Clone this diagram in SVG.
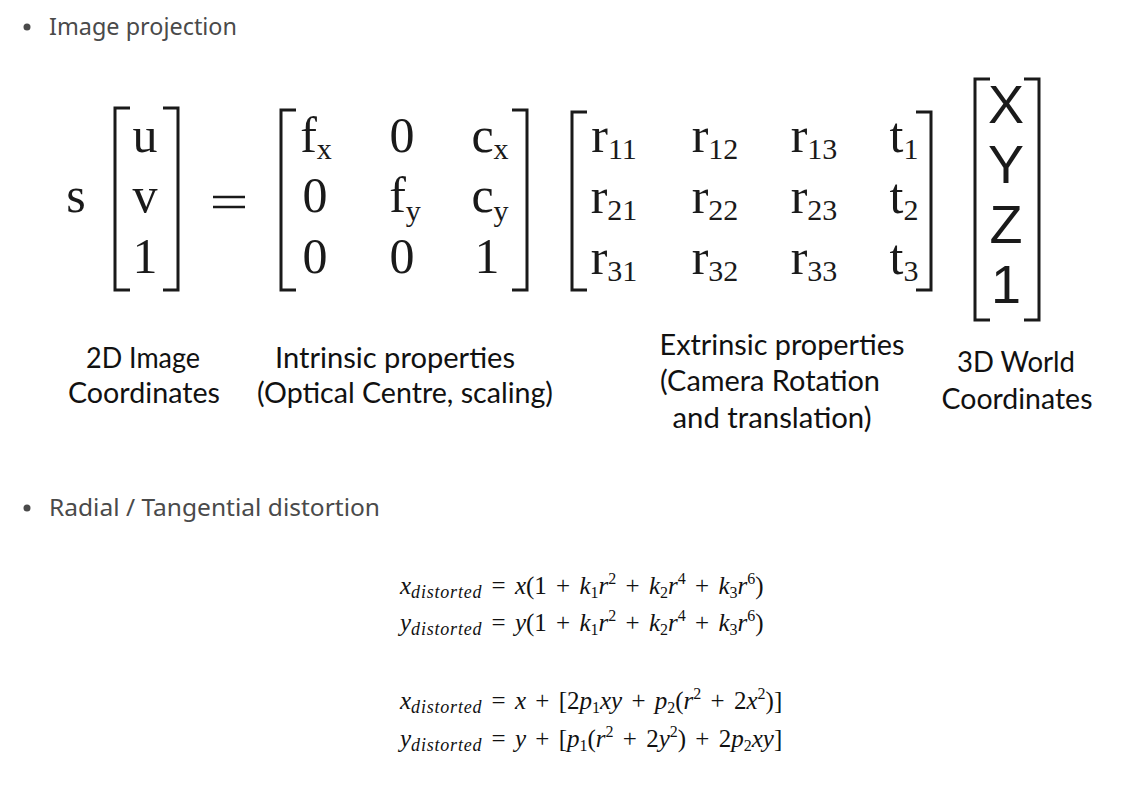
<svg xmlns="http://www.w3.org/2000/svg" width="1146" height="800" viewBox="0 0 1146 800">
<style>
.bul{font-family:"Noto Sans","Liberation Sans",sans-serif;font-size:23px;fill:#4a4a4a}
.m{font-family:"Liberation Serif",serif;font-size:50px;fill:#1a1a1a;text-anchor:middle}
.ms{font-size:30px}
.v{font-family:"Liberation Sans",sans-serif;font-size:54px;fill:#1a1a1a;text-anchor:middle}
.br{fill:none;stroke:#1a1a1a;stroke-width:3}
.lab{font-family:"Lato","Liberation Sans",sans-serif;font-size:28px;fill:#111;text-anchor:middle}
.f{font-family:"Liberation Serif",serif;font-size:25px;fill:#111;word-spacing:3px}
.i{font-style:italic}
.sub{font-size:18px;font-style:italic;letter-spacing:0.8px}
.sup{font-size:16px}
</style>
<rect width="1146" height="800" fill="#fff"/>
<g id="heading1">
<circle cx="27" cy="27" r="3.5" fill="#4a4a4a"/>
<text class="bul" x="49" y="35" textLength="188" lengthAdjust="spacingAndGlyphs">Image projection</text>
</g>
<g id="lhs">
<text class="m" x="76" y="212">s</text>
<path class="br" d="M130,108 H115 V290 H130 M163,108 H178 V290 H163"/>
<text class="m" x="145" y="152">u</text>
<text class="m" x="145" y="212">v</text>
<text class="m" x="145" y="273">1</text>
<path d="M213,197 H245 M213,207 H245" stroke="#1a1a1a" stroke-width="2.5"/>
</g>
<g id="intrinsic">
<path class="br" d="M296,110 H281 V290 H296 M512,110 H527 V290 H512"/>
<text class="m" x="316" y="152">f<tspan class="ms" dy="7">x</tspan></text>
<text class="m" x="402" y="152">0</text>
<text class="m" x="490" y="152">c<tspan class="ms" dy="7">x</tspan></text>
<text class="m" x="315" y="212">0</text>
<text class="m" x="405" y="212">f<tspan class="ms" dy="9">y</tspan></text>
<text class="m" x="490" y="212">c<tspan class="ms" dy="9">y</tspan></text>
<text class="m" x="315" y="273">0</text>
<text class="m" x="402" y="273">0</text>
<text class="m" x="487" y="273">1</text>
</g>
<g id="extrinsic">
<path class="br" d="M587,112 H572 V290 H587 M916,112 H931 V290 H916"/>
<text class="m" x="614" y="152">r<tspan class="ms" dy="7">11</tspan></text>
<text class="m" x="715" y="152">r<tspan class="ms" dy="7">12</tspan></text>
<text class="m" x="814" y="152">r<tspan class="ms" dy="7">13</tspan></text>
<text class="m" x="904" y="152">t<tspan class="ms" dy="7">1</tspan></text>
<text class="m" x="614" y="213">r<tspan class="ms" dy="7">21</tspan></text>
<text class="m" x="715" y="213">r<tspan class="ms" dy="7">22</tspan></text>
<text class="m" x="814" y="213">r<tspan class="ms" dy="7">23</tspan></text>
<text class="m" x="904" y="213">t<tspan class="ms" dy="7">2</tspan></text>
<text class="m" x="614" y="274">r<tspan class="ms" dy="7">31</tspan></text>
<text class="m" x="715" y="274">r<tspan class="ms" dy="7">32</tspan></text>
<text class="m" x="814" y="274">r<tspan class="ms" dy="7">33</tspan></text>
<text class="m" x="904" y="274">t<tspan class="ms" dy="7">3</tspan></text>
</g>
<g id="world">
<path class="br" d="M990,79 H975 V320 H990 M1024,79 H1039 V320 H1024"/>
<text class="v" x="1006" y="123">X</text>
<text class="v" x="1006" y="183">Y</text>
<text class="v" x="1006" y="243">Z</text>
<text class="v" x="1006" y="303">1</text>
</g>
<g id="labels">
<text class="lab" x="143" y="368" textLength="114" lengthAdjust="spacingAndGlyphs">2D Image</text>
<text class="lab" x="144" y="403" textLength="152" lengthAdjust="spacingAndGlyphs">Coordinates</text>
<text class="lab" x="395" y="368" textLength="240" lengthAdjust="spacingAndGlyphs">Intrinsic properties</text>
<text class="lab" x="405" y="403" textLength="296" lengthAdjust="spacingAndGlyphs">(Optical Centre, scaling)</text>
<text class="lab" x="782" y="355" textLength="245" lengthAdjust="spacingAndGlyphs">Extrinsic properties</text>
<text class="lab" x="770" y="391" textLength="220" lengthAdjust="spacingAndGlyphs">(Camera Rotation</text>
<text class="lab" x="772" y="428" textLength="199" lengthAdjust="spacingAndGlyphs">and translation)</text>
<text class="lab" x="1016" y="372" textLength="118" lengthAdjust="spacingAndGlyphs">3D World</text>
<text class="lab" x="1017" y="409" textLength="151" lengthAdjust="spacingAndGlyphs">Coordinates</text>
</g>
<g id="heading2">
<circle cx="27" cy="508" r="3.5" fill="#4a4a4a"/>
<text class="bul" x="49" y="516" textLength="331" lengthAdjust="spacingAndGlyphs">Radial / Tangential distortion</text>
</g>
<g id="distortion">
<text class="f" x="400" y="594"><tspan class="i">x</tspan><tspan class="sub" dy="4">distorted</tspan><tspan dy="-4"> = </tspan><tspan class="i">x</tspan>(1 + <tspan class="i">k</tspan><tspan class="sup" dy="4">1</tspan><tspan class="i" dy="-4">r</tspan><tspan class="sup" dy="-10">2</tspan><tspan dy="10"> + </tspan><tspan class="i">k</tspan><tspan class="sup" dy="4">2</tspan><tspan class="i" dy="-4">r</tspan><tspan class="sup" dy="-10">4</tspan><tspan dy="10"> + </tspan><tspan class="i">k</tspan><tspan class="sup" dy="4">3</tspan><tspan class="i" dy="-4">r</tspan><tspan class="sup" dy="-10">6</tspan><tspan dy="10">)</tspan></text>
<text class="f" x="400" y="631"><tspan class="i">y</tspan><tspan class="sub" dy="4">distorted</tspan><tspan dy="-4"> = </tspan><tspan class="i">y</tspan>(1 + <tspan class="i">k</tspan><tspan class="sup" dy="4">1</tspan><tspan class="i" dy="-4">r</tspan><tspan class="sup" dy="-10">2</tspan><tspan dy="10"> + </tspan><tspan class="i">k</tspan><tspan class="sup" dy="4">2</tspan><tspan class="i" dy="-4">r</tspan><tspan class="sup" dy="-10">4</tspan><tspan dy="10"> + </tspan><tspan class="i">k</tspan><tspan class="sup" dy="4">3</tspan><tspan class="i" dy="-4">r</tspan><tspan class="sup" dy="-10">6</tspan><tspan dy="10">)</tspan></text>
<text class="f" x="400" y="709"><tspan class="i">x</tspan><tspan class="sub" dy="4">distorted</tspan><tspan dy="-4"> = </tspan><tspan class="i">x</tspan> + [2<tspan class="i">p</tspan><tspan class="sup" dy="4">1</tspan><tspan class="i" dy="-4">xy</tspan> + <tspan class="i">p</tspan><tspan class="sup" dy="4">2</tspan><tspan dy="-4">(</tspan><tspan class="i">r</tspan><tspan class="sup" dy="-10">2</tspan><tspan dy="10"> + 2</tspan><tspan class="i">x</tspan><tspan class="sup" dy="-10">2</tspan><tspan dy="10">)]</tspan></text>
<text class="f" x="400" y="747"><tspan class="i">y</tspan><tspan class="sub" dy="4">distorted</tspan><tspan dy="-4"> = </tspan><tspan class="i">y</tspan> + [<tspan class="i">p</tspan><tspan class="sup" dy="4">1</tspan><tspan dy="-4">(</tspan><tspan class="i">r</tspan><tspan class="sup" dy="-10">2</tspan><tspan dy="10"> + 2</tspan><tspan class="i">y</tspan><tspan class="sup" dy="-10">2</tspan><tspan dy="10">) + 2</tspan><tspan class="i">p</tspan><tspan class="sup" dy="4">2</tspan><tspan class="i" dy="-4">xy</tspan>]</text>
</g>
</svg>
